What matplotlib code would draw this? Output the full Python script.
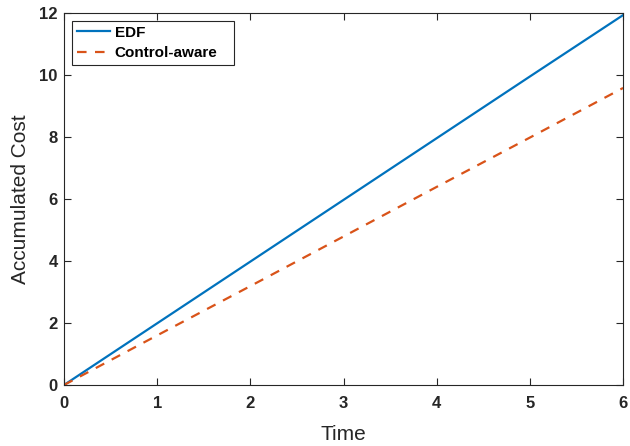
import matplotlib
matplotlib.use("Agg")
import matplotlib.pyplot as plt

time = [0, 1, 2, 3, 4, 5, 6]
edf = [0, 1.99, 3.98, 5.97, 7.96, 9.95, 11.93]
control_aware = [0, 1.60, 3.19, 4.79, 6.39, 7.98, 9.58]
xticks = [0, 1, 2, 3, 4, 5, 6]
yticks = [0, 2, 4, 6, 8, 10, 12]

plt.rcParams['font.family'] = ['Liberation Sans', 'DejaVu Sans']

fig = plt.figure(figsize=(6.3, 4.46), dpi=100)
ax = fig.add_axes([0.1016, 0.1368, 0.8874, 0.8342])

ax.plot(time, edf, color=(0, 0.447, 0.741), lw=1.6, label='EDF')
ax.plot(time, control_aware, color=(0.85, 0.325, 0.098), lw=1.6, ls=(0, (4.3, 3.8)), label='Control-aware')

ax.set_xlim(0, 6)
ax.set_ylim(0, 12)
ax.set_xticks(xticks)
ax.set_yticks(yticks)
ax.tick_params(direction='in', top=True, right=True, length=5, width=0.8, colors='#262626', labelsize=12)
ax.tick_params(axis='x', pad=8)
ax.tick_params(axis='y', pad=4.5)
for lbl in ax.get_xticklabels() + ax.get_yticklabels():
    lbl.set_fontweight('bold')
    lbl.set_color('#262626')
for s in ax.spines.values():
    s.set_linewidth(0.8)
    s.set_color('#262626')

ax.set_xlabel('Time', fontsize=15, color='#262626', va='center')
ax.set_ylabel('Accumulated Cost', fontsize=15, color='#262626', va='center')
ax.xaxis.set_label_coords(0.5, (385 - 435) / 372)
ax.yaxis.set_label_coords((20 - 64) / 559, 0.5)

leg = ax.legend(loc='upper left', prop={'weight': 'bold', 'size': 11}, fancybox=False,
                edgecolor='#262626', framealpha=1, handlelength=2.2, handletextpad=0.3,
                borderpad=0.3, borderaxespad=0, labelspacing=0.42, mode='expand',
                bbox_to_anchor=((72 - 64) / 559, (385 - 21) / 372, (234 - 72) / 559, 0))
leg.get_frame().set_linewidth(0.8)

fig.savefig('out.png', dpi=100)
